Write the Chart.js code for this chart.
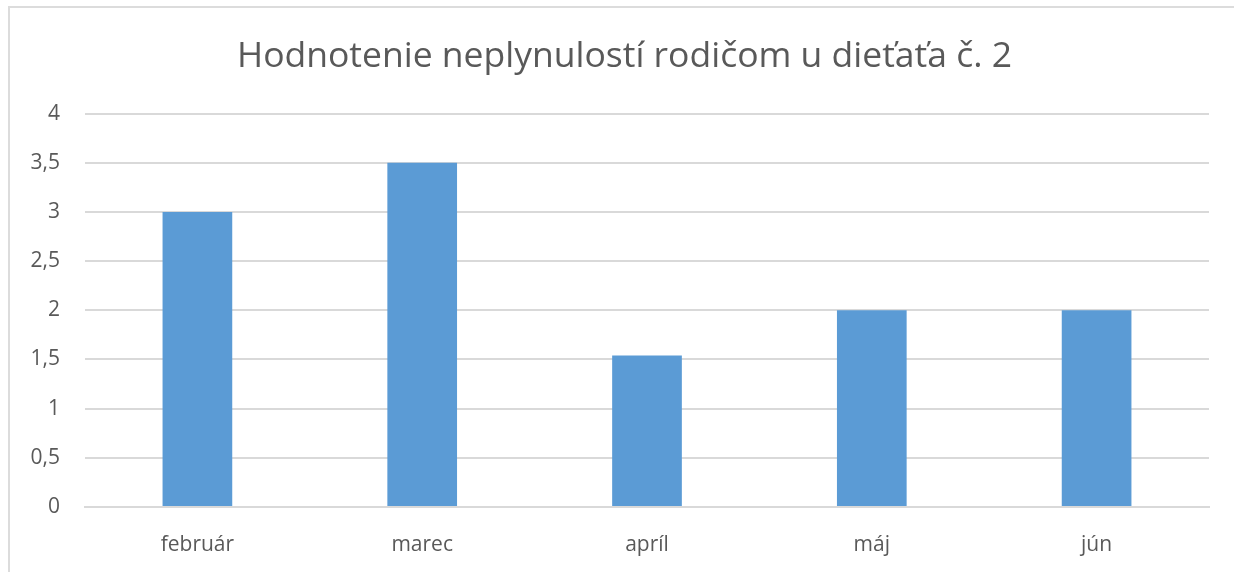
<!DOCTYPE html>
<html>
<head>
<meta charset="utf-8">
<script src="https://cdn.jsdelivr.net/npm/chart.js@4/dist/chart.umd.min.js"></script>
<style>
  html, body { margin: 0; padding: 0; background: #fff; overflow: hidden; }
  #frame {
    position: absolute; left: 8px; top: 6px; width: 1240px; height: 580px;
    border: 2px solid #dcdcdc; box-sizing: border-box;
  }
  #wrap { position: absolute; left: 0; top: 0; width: 1234px; height: 572px; }
</style>
</head>
<body>
<div id="frame"></div>
<div id="wrap"><canvas id="chart"></canvas></div>
<script>
// Data
const kategorie = ["február", "marec", "apríl", "máj", "jún"];
const hodnoty = [3, 3.5, 1.54, 2, 2];
const nadpis = "Hodnotenie neplynulostí rodičom u dieťaťa č. 2";

const sivaText = "#595959";
const sivaMriezka = "#d9d9d9";

// nadpis je v originali trochu posunuty doprava
const posunNadpisu = {
  id: "posunNadpisu",
  afterLayout(chart) {
    if (chart.titleBlock) chart.titleBlock.left += 40;
  }
};

const ctx = document.getElementById("chart").getContext("2d");
new Chart(ctx, {
  type: "bar",
  data: {
    labels: kategorie,
    datasets: [{
      data: hodnoty,
      backgroundColor: "#5b9bd5",
      borderWidth: 0,
      barPercentage: 1,
      categoryPercentage: 0.31
    }]
  },
  options: {
    responsive: true,
    maintainAspectRatio: false,
    animation: false,
    layout: { padding: { left: 0, right: 25, top: 0, bottom: 0 } },
    plugins: {
      legend: { display: false },
      tooltip: { enabled: false },
      title: {
        display: true,
        text: nadpis,
        color: sivaText,
        font: { family: "Open Sans", size: 35.5, weight: "normal" },
        padding: { top: 36, bottom: 35 }
      }
    },
    scales: {
      x: {
        grid: { display: false },
        border: { display: true, color: sivaMriezka, width: 2 },
        ticks: {
          color: sivaText,
          font: { family: "Open Sans", size: 21 },
          padding: 17
        },
        afterFit: (s) => { s.height = 65; }
      },
      y: {
        min: 0,
        max: 4,
        border: { display: false },
        grid: { color: sivaMriezka, lineWidth: 2, drawTicks: false },
        ticks: {
          stepSize: 0.5,
          color: sivaText,
          font: { family: "Open Sans", size: 21 },
          padding: 25,
          callback: (v) => String(v).replace(".", ",")
        },
        afterFit: (s) => { s.width = 85; }
      }
    }
  },
  plugins: [posunNadpisu]
});
</script>
</body>
</html>
